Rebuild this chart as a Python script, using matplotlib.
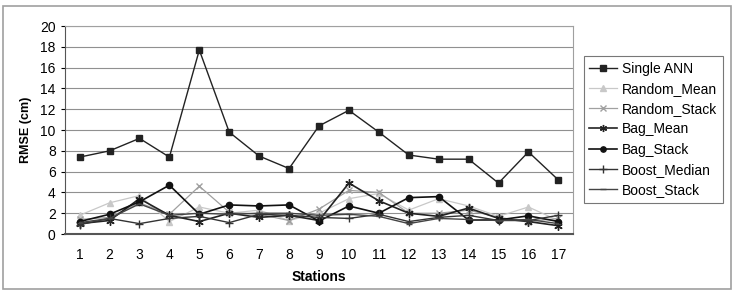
import matplotlib.pyplot as plt
from matplotlib.patches import Rectangle

plt.rcParams["font.family"] = ["Liberation Sans", "DejaVu Sans"]

stations = list(range(1, 18))

single_ann = [7.4, 8.0, 9.2, 7.4, 17.7, 9.8, 7.5, 6.3, 10.4, 11.9, 9.8, 7.6, 7.2, 7.2, 4.9, 7.9, 5.2]
random_mean = [1.8, 3.0, 3.7, 1.2, 2.6, 2.0, 2.3, 1.3, 2.0, 3.4, 3.9, 2.3, 3.4, 2.7, 1.7, 2.6, 1.3]
random_stack = [1.4, 1.6, 3.0, 1.9, 4.6, 2.1, 1.9, 1.3, 2.4, 4.2, 4.0, 2.0, 2.0, 2.3, 1.6, 1.2, 1.5]
bag_mean = [1.0, 1.3, 3.4, 1.8, 1.2, 2.0, 1.6, 1.8, 1.3, 4.9, 3.2, 2.0, 1.7, 2.5, 1.5, 1.2, 0.8]
bag_stack = [1.2, 1.9, 3.1, 4.7, 1.9, 2.8, 2.7, 2.8, 1.25, 2.7, 2.0, 3.5, 3.6, 1.35, 1.35, 1.75, 1.2]
boost_median = [0.9, 1.5, 1.0, 1.5, 1.7, 1.1, 1.9, 1.8, 1.6, 1.5, 1.9, 1.2, 1.6, 1.8, 1.3, 1.3, 1.8]
boost_stack = [1.1, 1.5, 2.9, 1.8, 2.0, 1.9, 2.0, 2.0, 1.8, 1.9, 1.7, 1.0, 1.5, 1.4, 1.3, 1.4, 1.0]

series = [
    ("Single ANN", single_ann, dict(color="#222222", marker="s", ms=4.5, lw=1.0)),
    ("Random_Mean", random_mean, dict(color="#c8c8c8", marker="^", ms=4.5, lw=0.9)),
    ("Random_Stack", random_stack, dict(color="#a0a0a0", marker="x", ms=5, lw=0.9)),
    ("Bag_Mean", bag_mean, dict(color="#222222", marker=(6, 2, 0), ms=6, lw=1.2)),
    ("Bag_Stack", bag_stack, dict(color="#111111", marker="o", ms=4.5, lw=1.2)),
    ("Boost_Median", boost_median, dict(color="#333333", marker="+", ms=6, lw=1.0)),
    ("Boost_Stack", boost_stack, dict(color="#444444", marker="_", ms=5, lw=1.0)),
]

fig = plt.figure(figsize=(7.35, 2.9), dpi=100)
ax = fig.add_axes([0.088, 0.193, 0.692, 0.717])

for name, vals, style in series:
    ax.plot(stations, vals, label=name, **style)

ax.set_xlim(0.5, 17.5)
ax.set_ylim(0, 20)
ax.set_yticks(range(0, 21, 2))
ax.set_xticks(stations)
ax.tick_params(axis="both", labelsize=10, length=3)
ax.tick_params(axis="x", length=0, pad=10)
ax.grid(axis="y", color="#909090", lw=0.8)
ax.set_axisbelow(True)
for side in ["top", "right"]:
    ax.spines[side].set_color("#a0a0a0")
ax.spines["left"].set_color("#555555")
ax.spines["bottom"].set_color("#555555")
ax.spines["bottom"].set_linewidth(1.5)

ax.set_xlabel("Stations", fontsize=10, fontweight="bold", labelpad=6)
ax.set_ylabel("RMSE (cm)", fontsize=9, fontweight="bold", labelpad=6)

leg = ax.legend(loc="upper left", bbox_to_anchor=(0.794, 0.807), bbox_transform=fig.transFigure,
                fontsize=10, frameon=True, fancybox=False, edgecolor="#555555",
                handlelength=2.0, handletextpad=0.35, labelspacing=0.45,
                borderpad=0.4, borderaxespad=0, markerscale=0.85)
leg.get_frame().set_linewidth(0.8)

fig.patches.append(Rectangle((0.004, 0.005), 0.99, 0.975, transform=fig.transFigure,
                             fill=False, edgecolor="#a0a0a0", lw=1.2))

fig.savefig("out.png")
